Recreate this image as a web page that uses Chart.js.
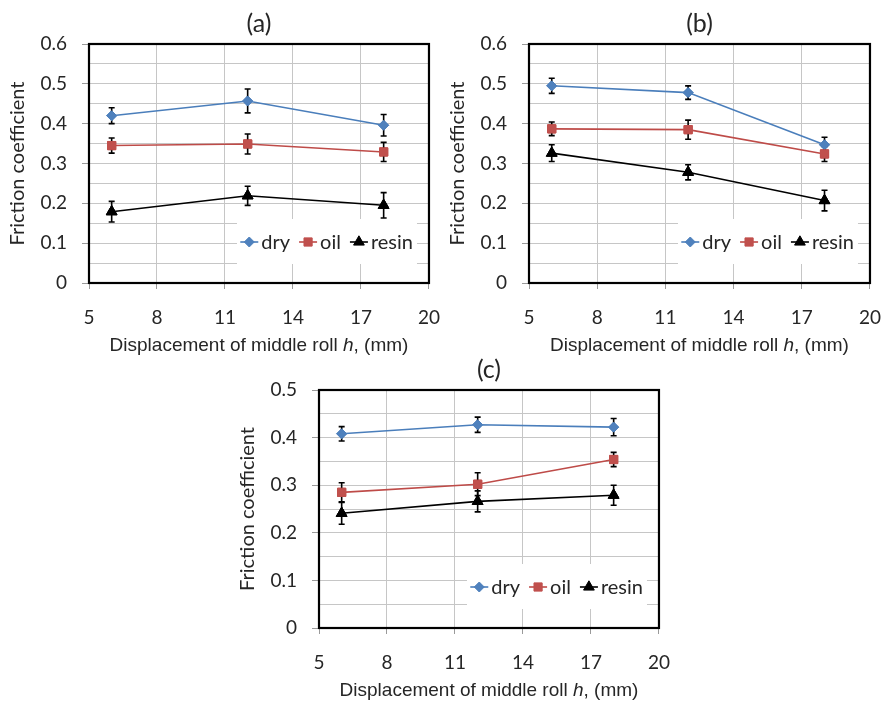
<!DOCTYPE html>
<html><head><meta charset="utf-8">
<script src="https://cdn.jsdelivr.net/npm/chart.js@4.4.1/dist/chart.umd.min.js"></script>
<style>
html,body{margin:0;padding:0;background:#fff;}
body{width:882px;height:702px;position:relative;overflow:hidden;}
.box{position:absolute;}
</style></head><body>
<div class="box" style="left:0;top:0;width:457px;height:362px"><canvas id="ca"></canvas></div>
<div class="box" style="left:440px;top:0;width:458px;height:362px"><canvas id="cb"></canvas></div>
<div class="box" style="left:230px;top:346px;width:457px;height:356px"><canvas id="cc"></canvas></div>
<script>
// ---- data ----
const displacement = [6, 12, 18];
const xTickValues = [5, 8, 11, 14, 17, 20];
const yTicksAB = [0, 0.1, 0.2, 0.3, 0.4, 0.5, 0.6];
const yTicksC = [0, 0.1, 0.2, 0.3, 0.4, 0.5];
const seriesNames = ['dry', 'oil', 'resin'];
const panelTitles = ['(a)', '(b)', '(c)'];
const xAxisTitle = ['Displacement of middle roll ', 'h', ', (mm)'];
const yAxisTitle = 'Friction coefficient';

const dryA = [0.420, 0.457, 0.396];
const dryErrA = [0.020, 0.030, 0.027];
const oilA = [0.345, 0.349, 0.329];
const oilErrA = [0.019, 0.025, 0.024];
const resinA = [0.179, 0.219, 0.195];
const resinErrA = [0.026, 0.024, 0.032];

const dryB = [0.495, 0.478, 0.347];
const dryErrB = [0.019, 0.017, 0.019];
const oilB = [0.387, 0.385, 0.324];
const oilErrB = [0.017, 0.024, 0.019];
const resinB = [0.326, 0.278, 0.207];
const resinErrB = [0.021, 0.019, 0.026];

const dryC = [0.408, 0.427, 0.422];
const dryErrC = [0.015, 0.016, 0.018];
const oilC = [0.285, 0.302, 0.354];
const oilErrC = [0.020, 0.024, 0.015];
const resinC = [0.241, 0.266, 0.279];
const resinErrC = [0.023, 0.022, 0.021];

// ---- styles ----
const STYLES = [
  {line: '#4A7EBB', fill: '#4F81BD', point: 'rectRot', r: 5},
  {line: '#BE4B48', fill: '#C0504D', point: 'rect', r: 5.8},
  {line: '#000000', fill: '#000000', point: 'triangle', r: 6.2}
];
const FONT_MAIN = 'Lato';
const GRID = '#c6c6c6';
const TICKC = '#9a9a9a';
const TEXTC = '#262626';

function drawMarker(ctx, style, x, y, r, fill, stroke) {
  ctx.save();
  ctx.fillStyle = fill; ctx.strokeStyle = stroke; ctx.lineWidth = 1;
  ctx.beginPath();
  if (style === 'rectRot') {
    ctx.moveTo(x, y - r); ctx.lineTo(x + r, y); ctx.lineTo(x, y + r); ctx.lineTo(x - r, y);
  } else if (style === 'rect') {
    const s = r * Math.SQRT1_2; ctx.rect(x - s, y - s, 2 * s, 2 * s);
  } else {
    for (let k = 0; k < 3; k++) {
      const a = k * 2 * Math.PI / 3;
      const px = x + Math.sin(a) * r, py = y - Math.cos(a) * r;
      if (k === 0) ctx.moveTo(px, py); else ctx.lineTo(px, py);
    }
  }
  ctx.closePath(); ctx.fill(); ctx.stroke();
  ctx.restore();
}

const decor = {
  id: 'decor',
  beforeDatasetsDraw(chart) {
    const {ctx, chartArea: a} = chart;
    ctx.save();
    ctx.fillStyle = '#ffffff';
    ctx.fillRect(a.right - 192, a.bottom - 64, 180, 45);
    ctx.strokeStyle = '#000';
    ctx.lineWidth = 2.2;
    ctx.strokeRect(a.left, a.top, a.right - a.left, a.bottom - a.top);
    ctx.restore();
  },
  afterDatasetsDraw(chart) {
    const {ctx} = chart;
    const ys = chart.scales.y;
    ctx.save();
    ctx.strokeStyle = '#000';
    ctx.lineWidth = 1.6;
    chart.data.datasets.forEach((ds, i) => {
      const meta = chart.getDatasetMeta(i);
      meta.data.forEach((el, j) => {
        const v = ds.data[j].y, e = ds.errors[j];
        const yt = ys.getPixelForValue(v + e), yb = ys.getPixelForValue(v - e);
        ctx.beginPath();
        ctx.moveTo(el.x, yt); ctx.lineTo(el.x, yb);
        ctx.moveTo(el.x - 3, yt); ctx.lineTo(el.x + 3, yt);
        ctx.moveTo(el.x - 3, yb); ctx.lineTo(el.x + 3, yb);
        ctx.stroke();
      });
    });
    ctx.restore();
    chart.data.datasets.forEach((ds, i) => {
      const meta = chart.getDatasetMeta(i);
      meta.data.forEach(el => drawMarker(ctx, ds.pointStyle, el.x, el.y, ds.pointRadius, ds.pointBackgroundColor, ds.pointBorderColor));
    });
  },
  afterDraw(chart, args, opts) {
    const {ctx, chartArea: a} = chart;
    const cx = (a.left + a.right) / 2;
    ctx.save();
    ctx.fillStyle = TEXTC;
    ctx.textAlign = 'center';
    ctx.textBaseline = 'middle';
    ctx.font = '25px ' + FONT_MAIN;
    ctx.fillText(opts.title, cx, a.top - 20);
    const fN = '19px "Liberation Sans"', fI = 'italic 19px "Liberation Sans"';
    ctx.font = fN; const w0 = ctx.measureText(xAxisTitle[0]).width; const w2 = ctx.measureText(xAxisTitle[2]).width;
    ctx.font = fI; const w1 = ctx.measureText(xAxisTitle[1]).width;
    let x = cx - (w0 + w1 + w2) / 2;
    const ty = a.bottom + 63;
    ctx.textAlign = 'left';
    ctx.font = fN; ctx.fillText(xAxisTitle[0], x, ty); x += w0;
    ctx.font = fI; ctx.fillText(xAxisTitle[1], x, ty); x += w1;
    ctx.font = fN; ctx.fillText(xAxisTitle[2], x, ty);
    ctx.font = '20px ' + FONT_MAIN;
    const keyW = 18, gapKT = 3, gapItem = 9;
    const items = chart.data.datasets.map(ds => ({ds, tw: ctx.measureText(ds.label).width}));
    let total = 0;
    items.forEach((it, k) => { total += keyW + gapKT + it.tw + (k < items.length - 1 ? gapItem : 0); });
    let lx = a.right - 16 - total;
    const ly = a.bottom - 41;
    items.forEach(it => {
      ctx.strokeStyle = it.ds.borderColor; ctx.lineWidth = 1.6;
      ctx.beginPath(); ctx.moveTo(lx, ly); ctx.lineTo(lx + keyW, ly); ctx.stroke();
      drawMarker(ctx, it.ds.pointStyle, lx + keyW / 2, ly, it.ds.pointRadius, it.ds.pointBackgroundColor, it.ds.pointBorderColor);
      lx += keyW + gapKT;
      ctx.fillStyle = TEXTC; ctx.textAlign = 'left'; ctx.textBaseline = 'middle';
      ctx.fillText(it.ds.label, lx, ly + 1);
      lx += it.tw + gapItem;
    });
    ctx.restore();
  }
};

function makeChart(id, title, series, yLabels, canvasH, plotBottom) {
  const yMax = yLabels[yLabels.length - 1];
  const datasets = series.map((s, i) => ({
    label: seriesNames[i],
    data: displacement.map((x, j) => ({x, y: s.v[j]})),
    errors: s.e,
    borderColor: STYLES[i].line,
    borderWidth: 1.6,
    pointStyle: STYLES[i].point,
    pointRadius: STYLES[i].r,
    pointHoverRadius: STYLES[i].r,
    pointBackgroundColor: STYLES[i].fill,
    pointBorderColor: STYLES[i].fill,
    pointBorderWidth: 1,
    fill: false,
    tension: 0
  }));
  return new Chart(document.getElementById(id), {
    type: 'line',
    data: {datasets},
    plugins: [decor],
    options: {
      responsive: true,
      maintainAspectRatio: false,
      animation: false,
      events: [],
      layout: {padding: {left: 0, right: 16, top: 44, bottom: 0}},
      plugins: {legend: {display: false}, tooltip: {enabled: false}, title: {display: false}, decor: {title}},
      scales: {
        x: {
          type: 'linear', min: xTickValues[0], max: xTickValues[xTickValues.length - 1],
          afterBuildTicks: sc => { sc.ticks = xTickValues.map(v => ({value: v})); },
          afterFit: sc => { sc.height = canvasH - plotBottom; },
          grid: {color: GRID, lineWidth: 1, tickLength: 6, tickColor: TICKC, drawTicks: true},
          border: {display: false},
          ticks: {autoSkip: false, maxRotation: 0, padding: 17, color: TEXTC, font: {family: FONT_MAIN, size: 19}}
        },
        y: {
          type: 'linear', min: 0, max: yMax,
          afterBuildTicks: sc => {
            const out = [];
            yLabels.forEach((v, i) => {
              out.push({value: v, lbl: true});
              if (i < yLabels.length - 1) out.push({value: (v + yLabels[i + 1]) / 2, lbl: false});
            });
            sc.ticks = out;
          },
          afterFit: sc => { sc.width = 89; },
          grid: {color: GRID, lineWidth: 1, tickLength: 7,
                 tickColor: c => (c.tick && c.tick.lbl) ? TICKC : 'rgba(0,0,0,0)'},
          border: {display: false},
          ticks: {autoSkip: false, padding: 15, color: TEXTC, font: {family: FONT_MAIN, size: 19},
                  callback: (v, i, t) => t[i].lbl ? (v === 0 ? '0' : v.toFixed(1)) : ''},
          title: {display: true, text: yAxisTitle, color: TEXTC, font: {family: FONT_MAIN, size: 20},
                  padding: {top: 6, bottom: 0}}
        }
      }
    }
  });
}

makeChart('ca', panelTitles[0], [{v: dryA, e: dryErrA}, {v: oilA, e: oilErrA}, {v: resinA, e: resinErrA}], yTicksAB, 362, 283);
makeChart('cb', panelTitles[1], [{v: dryB, e: dryErrB}, {v: oilB, e: oilErrB}, {v: resinB, e: resinErrB}], yTicksAB, 362, 283);
makeChart('cc', panelTitles[2], [{v: dryC, e: dryErrC}, {v: oilC, e: oilErrC}, {v: resinC, e: resinErrC}], yTicksC, 356, 282);
</script>
</body></html>
